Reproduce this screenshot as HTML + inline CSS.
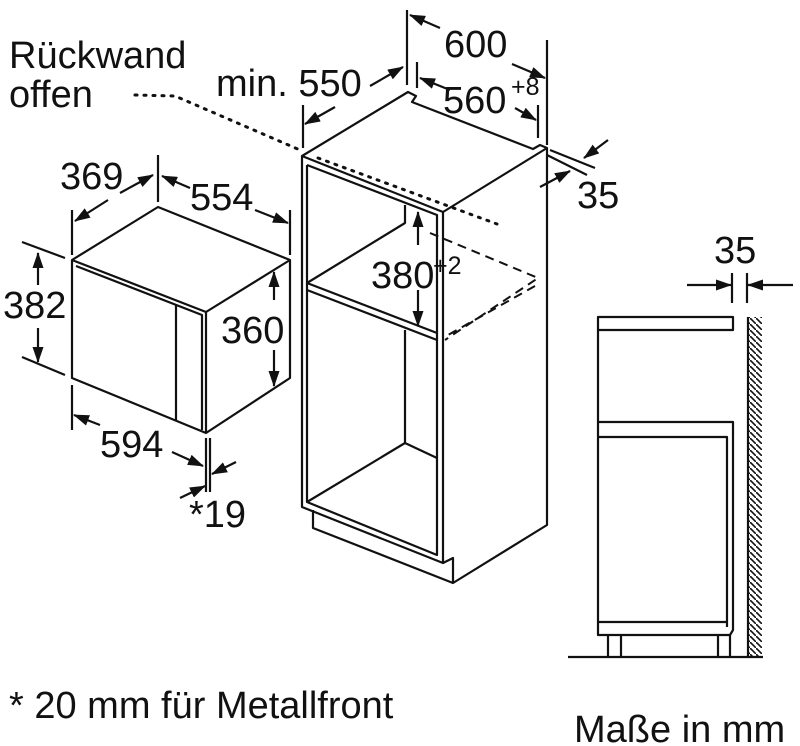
<!DOCTYPE html>
<html><head><meta charset="utf-8"><style>
html,body{margin:0;padding:0;background:#fff;}
svg{display:block;}
text{font-family:"Liberation Sans",Arial,sans-serif;fill:#111;}
</style></head><body>
<svg width="800" height="746" viewBox="0 0 800 746" xmlns="http://www.w3.org/2000/svg">
<defs>
<marker id="a" markerWidth="16" markerHeight="11" refX="15" refY="5.5" orient="auto" markerUnits="userSpaceOnUse">
<path d="M0,0 L16,5.5 L0,11 Z" fill="#111"/>
</marker>
<pattern id="h" width="6" height="6" patternUnits="userSpaceOnUse">
<path d="M0,0 L6,6" stroke="#111" stroke-width="1.6"/>
</pattern>
</defs>
<g fill="none" stroke="#111" stroke-width="2.2" stroke-linejoin="round">
<!-- Microwave -->
<path d="M72,260 L158,207 L290,260 L290,378 L206,433 L72,378 Z"/>
<path d="M206,312 L290,260"/>
<path d="M72,260 L206,312 L206,433"/>
<path d="M76,266 L202,315 L202,430"/>
<path d="M176,305 L176,420"/>
<!-- 369 -->
<path d="M72,210 L72,255 M158,155 L158,202 M290,210 L290,255"/>
<path d="M108,200 L75,221" marker-end="url(#a)"/>
<path d="M120,193 L153,175" marker-end="url(#a)"/>
<!-- 554 -->
<path d="M190,188 L162,176" marker-end="url(#a)"/>
<path d="M255,210 L288,223" marker-end="url(#a)"/>
<!-- 382 -->
<path d="M22,242 L65,258 M22,357 L65,375"/>
<path d="M38,285 L38,253" marker-end="url(#a)"/>
<path d="M38,328 L38,362" marker-end="url(#a)"/>
<!-- 360 -->
<path d="M274,300 L274,272" marker-end="url(#a)"/>
<path d="M274,350 L274,386" marker-end="url(#a)"/>
<!-- 594 -->
<path d="M72,385 L72,430 M206,438 L206,492 M210,438 L210,492"/>
<path d="M100,425 L74,415" marker-end="url(#a)"/>
<path d="M172,452 L203,466" marker-end="url(#a)"/>
<path d="M180,498 L205,486" marker-end="url(#a)"/>
<path d="M236,462 L212,474" marker-end="url(#a)"/>
<!-- Cabinet -->
<path d="M302,156 L408,92 L416,96 L412,102 L533,149 L540,145 L547,148 L443,212 L302,156 Z"/>
<path d="M302,156 L302,507 L443,563 L443,212"/>
<path d="M307,165 L437,215 L437,555 L307,502 L307,165"/>
<path d="M547,148 L547,525 L453,583 L453,558 L443,563"/>
<path d="M313,510 L313,528 L453,583"/>
<path d="M307,283 L437,333 M307,290 L437,340"/>
<path d="M307,283 L405,223 L405,205"/>
<path d="M405,330 L405,443 L437,458 M405,443 L307,502"/>
<!-- dashed shelf -->
<path d="M430,233 L538,278 L445,340 M535,286 L448,335" stroke-dasharray="9,6" stroke-width="2"/>
<!-- dotted -->
<path d="M135,95 L175,96 L300,150 M318,158 L497,224" stroke-dasharray="2,7" stroke-width="3" stroke-linecap="round"/>
<!-- cabinet dims -->
<path d="M303,105 L303,148 M407,10 L407,85 M417,62 L417,88 M547,40 L547,145 M538,105 L538,138"/>
<path d="M335,107 L305,124" marker-end="url(#a)"/>
<path d="M370,86 L403,67" marker-end="url(#a)"/>
<path d="M440,28 L410,15" marker-end="url(#a)"/>
<path d="M512,64 L545,78" marker-end="url(#a)"/>
<path d="M450,90 L420,78" marker-end="url(#a)"/>
<path d="M515,108 L536,120" marker-end="url(#a)"/>
<path d="M550,150 L595,168 M547,155 L587,175"/>
<path d="M608,140 L584,158" marker-end="url(#a)"/>
<path d="M540,187 L570,171" marker-end="url(#a)"/>
<path d="M418,245 L418,212" marker-end="url(#a)"/>
<path d="M418,290 L418,326" marker-end="url(#a)"/>
<!-- side elevation -->
<path d="M732,273 L732,303 M747,273 L747,303"/>
<path d="M687,285 L731,285" marker-end="url(#a)"/>
<path d="M793,285 L748,285" marker-end="url(#a)"/>
<rect x="598" y="317" width="135" height="13"/>
<path d="M598,330 L598,635 L730,635 L733,630 L733,422 L598,422 M598,437 L727,437 L727,627 M598,622 L727,622"/>
<path d="M608,635 L608,656 M621,635 L621,656 M718,635 L718,656 M730,635 L730,656"/>
<path d="M568,657 L763,657"/>
<path d="M748,317 L748,657"/>
</g>
<rect x="749" y="317" width="13" height="340" fill="url(#h)"/>
<!-- texts -->
<g font-size="38">
<text x="9" y="68">Rückwand</text>
<text x="9" y="107">offen</text>
<text x="216" y="96">min. 550</text>
<text x="444" y="57">600</text>
<text x="443" y="113">560</text>
<text x="511" y="95" font-size="25">+8</text>
<text x="577" y="208">35</text>
<text x="60" y="189">369</text>
<text x="190" y="210">554</text>
<text x="3" y="318">382</text>
<text x="221" y="343">360</text>
<text x="100" y="457">594</text>
<text x="189" y="527">*19</text>
<text x="371" y="288">380</text>
<text x="433" y="274" font-size="25">+2</text>
<text x="714" y="263">35</text>
<text x="9" y="718">* 20 mm für Metallfront</text>
<text x="574" y="742">Maße in mm</text>
</g>
</svg>
</body></html>
